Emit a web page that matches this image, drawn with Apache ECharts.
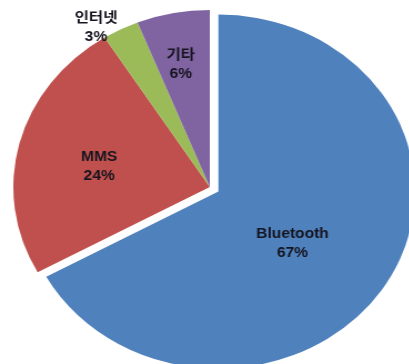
<!DOCTYPE html>
<html>
<head>
<meta charset="utf-8">
<script src="https://cdn.jsdelivr.net/npm/echarts@6/dist/echarts.min.js"></script>
<style>
html,body{margin:0;padding:0;background:#fff;overflow:hidden;}
#wrap{width:409px;height:364px;overflow:hidden;position:relative;}
#chart{width:369px;height:364px;transform:scaleX(1.11);transform-origin:0 0;}
</style>
</head>
<body>
<div id="wrap"><div id="chart"></div></div>
<script>
const categories = ['Bluetooth', 'MMS', '인터넷', '기타'];
const values = [67, 24, 3, 6];
const colors = ['#4F81BD', '#C0504D', '#9BBB59', '#8064A2'];
const labelShift = [[-12, 5], [-11, 2.5], [-61, -78], [-9, -32]];

const chart = echarts.init(document.getElementById('chart'));
chart.setOption({
  animation: false,
  series: [{
    type: 'pie',
    center: [189, 187],
    radius: [0, 177],
    startAngle: 90,
    clockwise: true,
    selectedMode: 'single',
    selectedOffset: 9,
    avoidLabelOverlap: false,
    label: {
      show: true,
      position: 'inner',
      formatter: p => p.name + '\n' + p.value + '%',
      fontFamily: "'Liberation Sans', 'Noto Sans CJK KR', sans-serif",
      fontWeight: 'bold',
      fontSize: 14,
      lineHeight: 19,
      color: '#15151f'
    },
    labelLine: { show: false },
    labelLayout: p => ({ dx: labelShift[p.dataIndex][0], dy: labelShift[p.dataIndex][1] }),
    itemStyle: { borderWidth: 0 },
    emphasis: { disabled: true },
    data: categories.map((c, i) => ({
      name: c,
      value: values[i],
      selected: i === 0,
      itemStyle: { color: colors[i] },
      select: { itemStyle: { color: colors[i] } }
    }))
  }]
});
</script>
</body>
</html>
